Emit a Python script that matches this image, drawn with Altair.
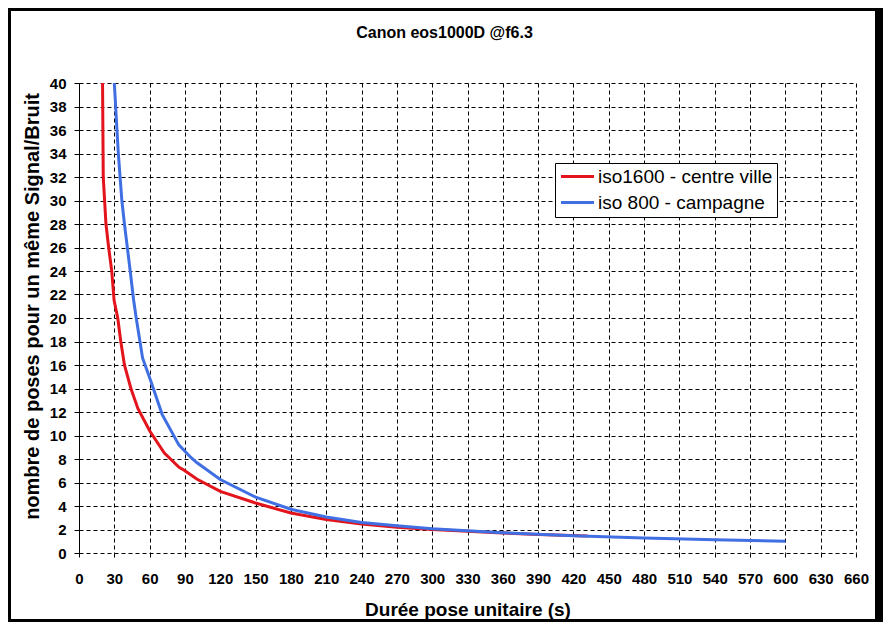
import altair as alt
import pandas as pd

title_text = "Canon eos1000D @f6.3"
x_title = "Durée pose unitaire (s)"
y_title = "nombre de poses pour un même Signal/Bruit"
series_names = ["iso1600 - centre ville", "iso 800 - campagne"]
series_colors = ["#E3141C", "#3F6FE2"]

red_t = [20, 20.6, 22.9, 25.2, 27.8, 29.8, 32.9, 35.5, 38.6, 44.1, 50, 60, 72.5, 85, 90, 100,
         120, 150, 180, 210, 240, 270, 300, 330, 360, 390, 432]
red_n = [40, 32, 28, 26, 24, 21.5, 20, 18, 16, 14, 12.3, 10.4, 8.5, 7.3, 7.0, 6.3,
         5.25, 4.25, 3.4, 2.85, 2.47, 2.2, 2.0, 1.85, 1.7, 1.58, 1.44]

blue_t = [30, 33.4, 36.4, 38.6, 43.5, 46.3, 48.6, 54, 60.6, 70.6, 84.8, 94.8, 100, 120,
          150, 180, 210, 240, 270, 300, 360, 420, 480, 540, 600]
blue_n = [40, 34, 30, 28, 24, 21.6, 20, 16.6, 14.75, 11.8, 9.2, 8.15, 7.7, 6.25,
          4.75, 3.72, 3.06, 2.6, 2.32, 2.07, 1.72, 1.47, 1.28, 1.13, 1.0]

x_ticks = list(range(0, 661, 30))
y_ticks = list(range(0, 41, 2))

FONT = "Liberation Sans"
W, H = 777, 470
PAD_L, PAD_T = 71, 75
CANVAS_W, CANVAS_H = 875, 614

df_red = pd.DataFrame({"t": red_t, "n": red_n, "serie": series_names[0]})
df_blue = pd.DataFrame({"t": blue_t, "n": blue_n, "serie": series_names[1]})

color = alt.Color(
    "serie:N",
    scale=alt.Scale(domain=series_names, range=series_colors),
    legend=alt.Legend(
        title=None, orient="none", legendX=476, legendY=80,
        symbolType="M-3,0H3", symbolSize=121, symbolStrokeWidth=3,
        symbolOffset=9, labelOffset=11, labelLimit=400,
        labelFont=FONT, labelFontSize=19, labelColor="black",
        padding=4, strokeColor="black", fillColor="white", rowPadding=6,
    ),
)

x = alt.X(
    "t:Q",
    scale=alt.Scale(domain=[0, 660], nice=False, zero=False),
    axis=alt.Axis(
        values=x_ticks, format="d", grid=True, gridColor="black", gridDash=[4, 3],
        gridWidth=1, gridOpacity=1, domain=False, ticks=True, tickColor="black",
        tickSize=4, tickWidth=1, labelFont=FONT, labelFontWeight="bold",
        labelFontSize=15, labelColor="black", labelPadding=14, labelFlush=False,
        labelOverlap=False, title=x_title, titleFont=FONT, titleFontWeight="bold",
        titleFontSize=19, titleColor="black", titleX=W / 2, titleY=62,
        titleBaseline="alphabetic", titleAlign="center",
    ),
)
y = alt.Y(
    "n:Q",
    scale=alt.Scale(domain=[0, 40], nice=False),
    axis=alt.Axis(
        values=y_ticks, format="d", grid=True, gridColor="black", gridDash=[4, 3],
        gridWidth=1, gridOpacity=1, domain=True, domainColor="black", domainWidth=1,
        ticks=True, tickColor="black", tickSize=5, tickWidth=1,
        labelFont=FONT, labelFontWeight="bold", labelFontSize=15, labelColor="black",
        labelPadding=8, labelOverlap=False, title=y_title, titleFont=FONT,
        titleFontWeight="bold", titleFontSize=20, titleColor="black",
        titleX=-41, titleY=223, titleAngle=270, titleBaseline="alphabetic",
        titleAlign="center",
    ),
)

red_line = alt.Chart(df_red).mark_line(strokeWidth=3).encode(x=x, y=y, color=color)
blue_line = alt.Chart(df_blue).mark_line(strokeWidth=3).encode(x=x, y=y, color=color)

frame_df = pd.DataFrame({"k": [0]})


def band(x1, x2, y1, y2):
    return alt.Chart(frame_df).mark_rect(color="black").encode(
        x=alt.value(x1), x2=alt.value(x2), y=alt.value(y1), y2=alt.value(y2)
    )


cl, ct = -PAD_L, -PAD_T
cr, cb = CANVAS_W - PAD_L, CANVAS_H - PAD_T
frame = [
    band(cl, cl + 3, ct, cb),
    band(cl, cr, ct, ct + 3),
    band(cr - 8, cr, ct, cb),
    band(cl, cr, cb - 3, cb),
]

chart = alt.layer(red_line, blue_line, *frame).properties(
    width=W,
    height=H,
    autosize=alt.AutoSizeParams(type="none"),
    padding={"left": PAD_L, "top": PAD_T, "right": CANVAS_W - PAD_L - W,
             "bottom": CANVAS_H - PAD_T - H},
    background="white",
    title=alt.TitleParams(
        text=title_text, font=FONT, fontSize=16, fontWeight="bold", color="black",
        anchor="middle", frame="group", dx=-23, offset=0, dy=46, baseline="alphabetic",
    ),
).configure_view(strokeWidth=0)

chart.save("out.html", embed_options={"renderer": "svg", "actions": False})
